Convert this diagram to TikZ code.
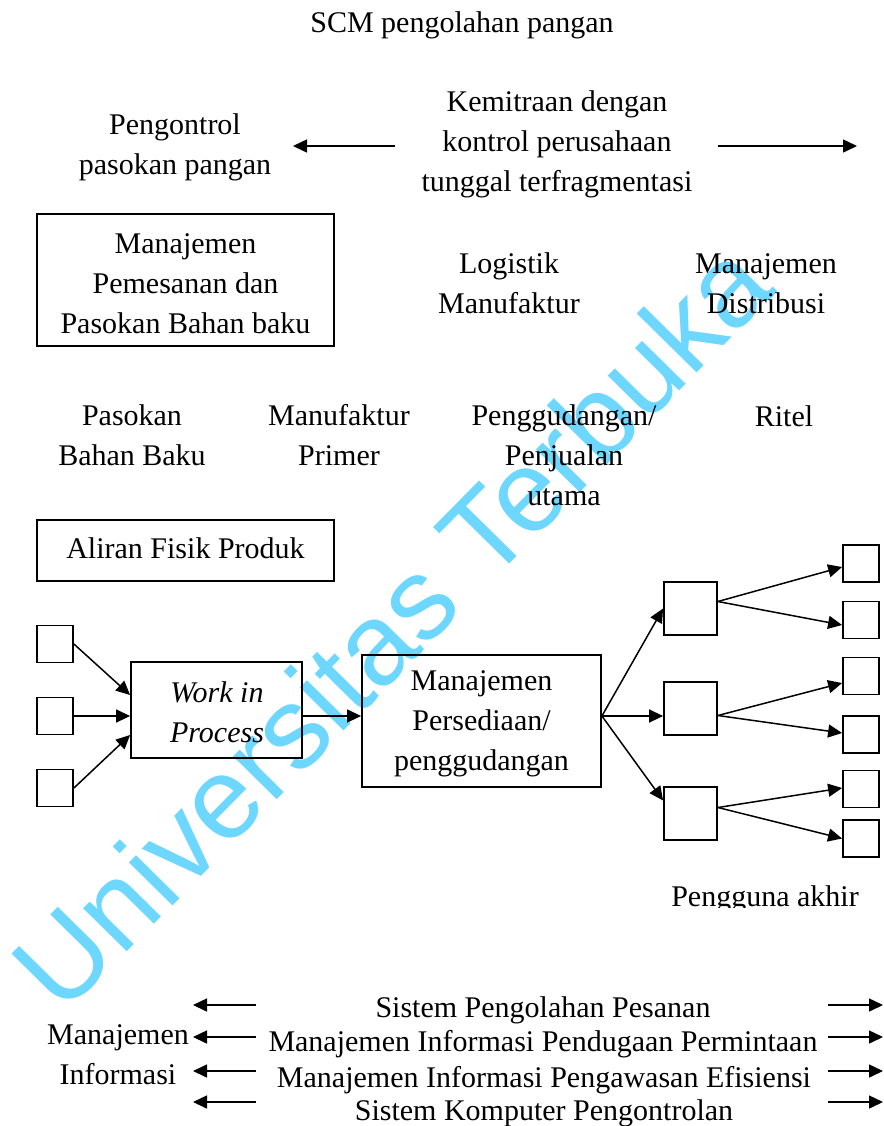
\documentclass[tikz,border=0pt]{standalone}
\usepackage{fontspec}
\setmainfont{Liberation Serif}
\newfontfamily\wmfont{Liberation Sans}
\usetikzlibrary{arrows.meta,calc}
\definecolor{wm}{RGB}{110,215,255}
\begin{document}
\begin{tikzpicture}[x=0.5pt,y=-0.5pt,
  txt/.style={font=\fontsize{15pt}{20pt}\selectfont, align=center, inner sep=0pt},
  frame/.style={draw, line width=0.9pt, inner sep=0pt},
  sq/.style={frame, minimum width=18pt, minimum height=18.5pt},
  mq/.style={frame, minimum width=26.5pt, minimum height=26.5pt},
  arr/.style={line width=0.75pt, -{Triangle[length=7pt,width=6.5pt]}}]
\useasboundingbox (0,0) rectangle (884,1126);
% watermark
\node[rotate=45.4, text=wm, font=\wmfont\fontsize{58pt}{65pt}\selectfont, inner sep=0pt] (wmark) at (391,625) {Universitas Terbuka};
% top
\node[txt] (title) at (462,25) {SCM pengolahan pangan};
\node[txt] (pk) at (175,147) {Pengontrol\\pasokan pangan};
\node[txt] (km) at (557,144) {Kemitraan dengan\\kontrol perusahaan\\tunggal terfragmentasi};
\coordinate (kmL) at (395,146);
\coordinate (pkR) at (293,146);
\coordinate (kmR) at (718,146);
\coordinate (endR) at (857,146);
\draw[arr] (kmL) -- (pkR);
\draw[arr] (kmR) -- (endR);
% management row
\node[frame, minimum width=148.5pt, minimum height=66pt] (mpb) at (185.5,280) {};
\node[txt] (mpbt) at (185.5,283.5) {Manajemen\\Pemesanan dan\\Pasokan Bahan baku};
\node[txt] (lm) at (509,283) {Logistik\\Manufaktur};
\node[txt] (md) at (766,283.5) {Manajemen\\Distribusi};
% stage row
\node[txt] (pbb) at (132,435) {Pasokan\\Bahan Baku};
\node[txt] (mfp) at (339,435) {Manufaktur\\Primer};
\node[txt] (pen) at (564,455) {Penggudangan/\\Penjualan\\utama};
\node[txt] (rit) at (784,416) {Ritel};
% physical flow
\node[frame, minimum width=148.5pt, minimum height=30.5pt] (afp) at (185.5,550.5) {};
\node[txt] (afpt) at (185.5,548.5) {Aliran Fisik Produk};
\node[sq] (s1) at (55,644) {};
\node[sq] (s2) at (55,716) {};
\node[sq] (s3) at (55,788) {};
\node[frame, minimum width=85.5pt, minimum height=48pt] (wip) at (216.5,710) {};
\node[txt, font=\fontsize{15pt}{20pt}\selectfont\itshape] (wipt) at (217,712) {Work in\\Process};
\node[frame, minimum width=119.5pt, minimum height=66pt] (mp) at (481.5,721) {};
\node[txt] (mpt) at (481.5,724) {Manajemen\\Persediaan/\\penggudangan};
\node[mq] (m1) at (690.5,608.5) {};
\node[mq] (m2) at (690.5,708.5) {};
\node[mq] (m3) at (690.5,813.5) {};
\node[sq] (r1) at (861,563.5) {};
\node[sq] (r2) at (861,620) {};
\node[sq] (r3) at (861,676) {};
\node[sq] (r4) at (861,734.5) {};
\node[sq] (r5) at (861,789) {};
\node[sq] (r6) at (861,838.5) {};
\draw[arr] (s1.east) -- ($(wip.west)+(0,-15)$);
\draw[arr] (s2.east) -- (s2.east -| wip.west);
\draw[arr] (s3.east) -- ($(wip.west)+(0,25)$);
\draw[arr] (wip.east |- s2.east) -- (mp.west |- s2.east);
\coordinate (mpo) at ($(mp.east)+(0,-5)$);
\draw[arr] (mpo) -- (m1.west);
\draw[arr] (mpo) -- (mpo -| m2.west);
\draw[arr] (mpo) -- ($(m3.west)+(0,-13)$);
\draw[arr] ($(m1.east)+(0,-7)$) -- ($(r1.west)+(0,3.5)$);
\draw[arr] ($(m1.east)+(0,-7)$) -- ($(r2.west)+(0,5)$);
\draw[arr] ($(m2.east)+(0,7)$) -- ($(r3.west)+(0,7)$);
\draw[arr] ($(m2.east)+(0,7)$) -- ($(r4.west)+(0,-1.5)$);
\draw[arr] ($(m3.east)+(0,-6)$) -- ($(r5.west)+(0,-1)$);
\draw[arr] ($(m3.east)+(0,-6)$) -- (r6.west);
\begin{scope}
\clip (600,860) rectangle (884,907);
\node[txt] (pa) at (765,899) {Pengguna akhir};
\end{scope}
% information management
\node[txt] (mi) at (118,1054.5) {Manajemen\\Informasi};
\node[txt] (b1) at (543,1010) {Sistem Pengolahan Pesanan};
\node[txt] (b2) at (543,1044) {Manajemen Informasi Pendugaan Permintaan};
\node[txt] (b3) at (544,1080) {Manajemen Informasi Pengawasan Efisiensi};
\node[txt] (b4) at (544,1113) {Sistem Komputer Pengontrolan};
\foreach \i/\y in {1/1005,2/1037,3/1071,4/1102}{
  \coordinate (la\i) at (256,\y);
  \coordinate (lb\i) at (193,\y);
  \coordinate (ra\i) at (828,\y);
  \coordinate (rb\i) at (883,\y);
  \draw[arr] (la\i) -- (lb\i);
  \draw[arr] (ra\i) -- (rb\i);
}
\end{tikzpicture}
\end{document}
